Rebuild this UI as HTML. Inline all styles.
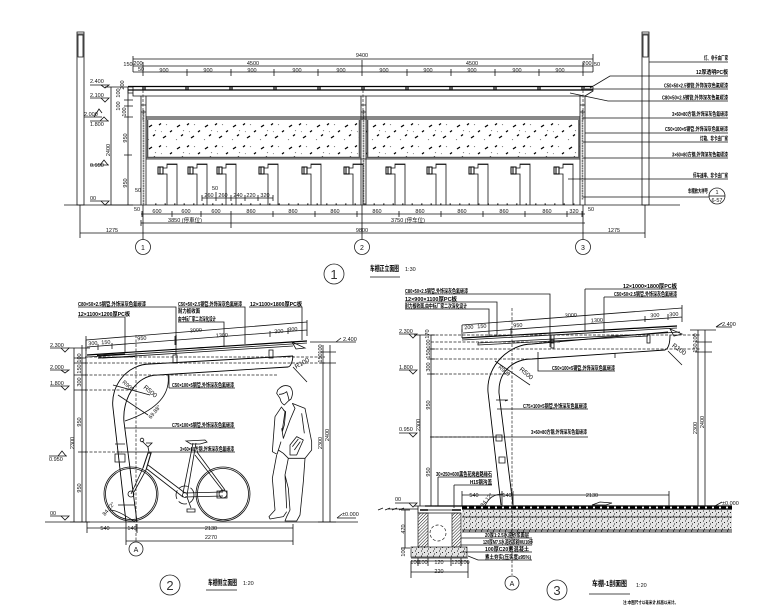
<!DOCTYPE html>
<html><head><meta charset="utf-8"><style>
html,body{margin:0;padding:0;background:#fff}
svg{display:block}
text{font-family:"Liberation Sans","Noto Sans CJK SC",sans-serif;font-size:5.5px;fill:#111}
.n{text-anchor:middle}
.l{fill:#000;font-size:5.5px;font-weight:bold}
.t{font-size:7.5px;font-weight:bold;fill:#000}
.c{text-anchor:middle;fill:#333;font-size:13px}
.g{font-size:7px;text-anchor:middle}
.a{fill:none;stroke:#111;stroke-width:.8}
.b{fill:none;stroke:#000;stroke-width:1.2}
.d{fill:none;stroke:#222;stroke-width:.7;stroke-dasharray:3 1.5}
.o{fill:#fff;stroke:#222;stroke-width:.8}
</style></head><body>
<svg width="780" height="611" viewBox="0 0 780 611" xmlns="http://www.w3.org/2000/svg">
<defs>
<pattern id="leaf" width="28" height="22" patternUnits="userSpaceOnUse" patternTransform="translate(146,120)">
<path d="M3,7l3,-2M17,18l3,-2M13,5l2,-1.5M24,12l2,-1.5M7,16l2,-1.5" stroke="#000" stroke-width="1.3" fill="none"/>
<path d="M20,5l1,-.7M9,11l1,-.7M2,20l1,-.7M15,12l.8,-.6" stroke="#555" stroke-width=".7" fill="none"/>
</pattern>
<pattern id="gr" width="6" height="5" patternUnits="userSpaceOnUse">
<rect width="6" height="5" fill="#e4e4e4"/>
<path d="M1,1h1M4,2.500h1M2,4h1" stroke="#222" stroke-width=".9"/>
</pattern>
<pattern id="ha" width="2.2" height="2.2" patternUnits="userSpaceOnUse" patternTransform="rotate(45)">
<rect width="2.2" height="2.2" fill="#fff"/><path d="M0,0V2.200" stroke="#111" stroke-width="1"/>
</pattern>
<g id="rk"><path class="a" d="M0,205V174H-4V168H0V164H10V205M0,164.500H10"/><rect x="-9" y="167" width="5" height="7" fill="#fff" stroke="#000" stroke-width="1"/><path d="M-7,167v7" stroke="#000"/></g>
</defs>
<rect width="780" height="611" fill="#fff"/>

<!-- ============ VIEW 1 ============ -->
<path class="a" d="M64,205H680"/>
<path class="a" d="M77,32H84V205H77ZM77,34H84M78,35H83V57H78Z"/>
<path class="a" d="M642,32H649V205H642ZM642,34H649M643,35H648V57H643Z"/>
<path class="a" d="M133,59H593M133,66H593M143,72H593M133,56V72M593,54V72M143,62V76M187,69V76M231,69V76M274,69V76M318,69V76M362,60V76M407,69V76M451,69V76M495,69V76M539,69V76M583,62V76M133,72H143"/>
<text x="362" y="57" class="n">9400</text><text x="253" y="65" class="n">4500</text><text x="472" y="65" class="n">4500</text>
<text x="138" y="65" class="n">200</text><text x="128" y="66" class="n">150</text><text x="141" y="71" class="n">50</text><text x="587" y="65" class="n">200</text><text x="597" y="66" class="n">50</text>
<text x="164" y="72" class="n">900</text><text x="208" y="72" class="n">900</text><text x="252" y="72" class="n">900</text><text x="297" y="72" class="n">900</text><text x="341" y="72" class="n">900</text><text x="384" y="72" class="n">900</text><text x="428" y="72" class="n">900</text><text x="472" y="72" class="n">900</text><text x="517" y="72" class="n">900</text><text x="560" y="72" class="n">900</text>
<path class="b" d="M128,86.500H593M128,90H593"/>
<path class="a" d="M128,87V93H133M133,87V96H585M593,87V91L585,96"/>
<path class="b" d="M143,87v3M145,87v3M186,87v3M188,87v3M230,87v3M232,87v3M274,87v3M276,87v3M318,87v3M320,87v3M362,87v3M364,87v3M406,87v3M408,87v3M450,87v3M452,87v3M494,87v3M496,87v3M538,87v3M540,87v3M582,87v3M584,87v3"/>
<path class="a" d="M141,96V205M146,96V205M361,96V205M366,96V205M580,96V205M585,96V205"/>
<path stroke="#777" stroke-width="1.6" fill="none" d="M143.500,110V205M363.500,110V205M582.500,110V200" stroke-dasharray="2 .5"/>
<path class="a" d="M141,105H146M141,112H146M361,105H366M361,112H366M580,105H585M580,112H585"/>
<path stroke="#111" stroke-width="1" fill="none" d="M146,117H580M146,119H580"/>
<rect x="146" y="120" width="213" height="37" fill="url(#leaf)"/><rect x="366" y="120" width="214" height="37" fill="url(#leaf)"/>
<path stroke="#555" stroke-width="1.6" fill="none" d="M146,157.500H361M366,157.500H580M147.500,120V157M359.500,120V157M367.500,120V157M579,120V157"/>
<path class="a" d="M146,159H580"/>
<use href="#rk" x="167"/><use href="#rk" x="197"/><use href="#rk" x="226"/><use href="#rk" x="268"/><use href="#rk" x="311"/><use href="#rk" x="353"/><use href="#rk" x="395"/><use href="#rk" x="436"/><use href="#rk" x="478"/><use href="#rk" x="520"/><use href="#rk" x="563"/>
<path stroke="#222" stroke-width="1" stroke-dasharray="1.500 8" fill="none" d="M155,204H580"/>
<path class="a" d="M202,198H273M202,195V201M216,195V201M231,195V201M245,195V201M258,195V201M273,195V201M216,192V198"/>
<text x="209" y="197" class="n">260</text><text x="223" y="197" class="n">260</text><text x="238" y="197" class="n">240</text><text x="251" y="197" class="n">220</text><text x="265" y="197" class="n">320</text><text x="215" y="190" class="n">50</text><text x="138" y="192" class="n">50</text>
<path class="a" d="M141,214H585M142,211V217M172,211V217M201,211V217M231,211V217M273,211V217M315,211V217M357,211V217M399,211V217M441,211V217M483,211V217M525,211V217M567,211V217M582,211V217M141,223H585M141,220V226M231,214V228M583,220V226M80,233H645M80,205V238M645,205V238M143,205V240M362,205V240M583,205V240"/>
<path class="d" d="M143,90V120M363,90V120M583,90V120"/>
<text x="157" y="213" class="n">600</text><text x="186" y="213" class="n">600</text><text x="216" y="213" class="n">600</text><text x="251" y="213" class="n">860</text><text x="293" y="213" class="n">860</text><text x="335" y="213" class="n">860</text><text x="377" y="213" class="n">860</text><text x="420" y="213" class="n">860</text><text x="462" y="213" class="n">860</text><text x="504" y="213" class="n">860</text><text x="547" y="213" class="n">860</text><text x="574" y="213" class="n">320</text><text x="588" y="211">50</text><text x="137" y="211" class="n">50</text>
<text x="185" y="222" class="n">3850 (停車位)</text><text x="408" y="222" class="n">3750 (停车位)</text>
<text x="112" y="232" class="n">1275</text><text x="362" y="232" class="n">9800</text><text x="614" y="232" class="n">1275</text>
<circle class="o" cx="143" cy="247" r="7.500"/><circle class="o" cx="362" cy="247" r="7.500"/><circle class="o" cx="583" cy="247" r="7.500"/>
<text x="143" y="250" class="g">1</text><text x="362" y="250" class="g">2</text><text x="583" y="250" class="g">3</text>
<circle class="o" cx="334" cy="274" r="10"/><text x="334" y="279" class="c">1</text>
<text x="370" y="271" class="t" textLength="29" lengthAdjust="spacingAndGlyphs">车棚正立面图</text><text x="405" y="271">1:30</text>
<path class="a" d="M370,277H400"/>
<path class="a" d="M111,87V205M128,87V205M105,87H133M124,100H133M124,106H133M124,117H133M124,155H132M105,205H133"/>
<text transform="translate(124,85) rotate(-90)" class="n">200</text><text transform="translate(120,93) rotate(-90)" class="n">100</text><text transform="translate(120,106) rotate(-90)" class="n">100</text><text transform="translate(126,112) rotate(-90)" class="n">100</text>
<text transform="translate(127,138) rotate(-90)" class="n">950</text><text transform="translate(127,183) rotate(-90)" class="n">950</text><text transform="translate(110,150) rotate(-90)" class="n">2400</text>
<text x="90" y="83">2.400</text><path class="a" d="M90,85H109L105,88L101,85"/>
<text x="90" y="97">2.100</text><path class="a" d="M90,98H109L105,102L101,98"/>
<text x="84" y="116">2.000</text><path class="a" d="M84,117H102M94,117L99,109L102,113"/>
<text x="90" y="126">1.800</text><path class="a" d="M90,121H109M100,121L104,117L108,121"/>
<text x="90" y="167">0.950</text><path class="a" d="M90,165H109M100,165L104,160L108,165"/>
<text x="90" y="200">00</text><path class="a" d="M90,201H109L105,205L101,201"/>
<!-- right leaders -->
<path class="a" d="M649,62H728M590,88L610,76H728M585,89H728M570,93L608,101H728M583,118H728M585,133H728M583,142H728M583,158H728M568,179H728M583,197H709"/>
<text x="728" y="60" text-anchor="end" class="l" textLength="24" lengthAdjust="spacingAndGlyphs">灯、非卡由厂家</text>
<text x="728" y="74" text-anchor="end" class="l" textLength="32" lengthAdjust="spacingAndGlyphs">12厚透明PC板</text>
<text x="728" y="87.500" text-anchor="end" class="l" textLength="64" lengthAdjust="spacingAndGlyphs">C50×50×2.5钢管,外饰深灰色氟碳漆</text>
<text x="728" y="99.500" text-anchor="end" class="l" textLength="66" lengthAdjust="spacingAndGlyphs">C80×50×2.5钢管,外饰深灰色氟碳漆</text>
<text x="728" y="116" text-anchor="end" class="l" textLength="56" lengthAdjust="spacingAndGlyphs">3×60×80方钢,外饰深灰色氟碳漆</text>
<text x="728" y="131" text-anchor="end" class="l" textLength="63" lengthAdjust="spacingAndGlyphs">C50×100×5钢管,外饰深灰色氟碳漆</text>
<text x="728" y="140.500" text-anchor="end" class="l" textLength="28" lengthAdjust="spacingAndGlyphs">灯箱、非卡由厂家</text>
<text x="728" y="156.500" text-anchor="end" class="l" textLength="56" lengthAdjust="spacingAndGlyphs">3×60×80方钢,外饰深灰色氟碳漆</text>
<text x="728" y="177.500" text-anchor="end" class="l" textLength="35" lengthAdjust="spacingAndGlyphs">停车速率、非卡由厂家</text>
<text x="708" y="193" text-anchor="end" class="l" textLength="20" lengthAdjust="spacingAndGlyphs">车棚放大样号</text>
<circle class="o" cx="717" cy="196" r="8"/><path class="a" d="M709,196H725"/><text x="717" y="194" class="n">1</text><text x="717" y="202" class="n">6-57</text>

<!-- ============ VIEW 2 ============ -->
<path class="a" d="M45,522H358"/>
<path class="b" d="M87,355L307,341"/><path class="a" d="M87,357L307,343M102,358L293,346M100,356V358"/>
<path class="a" d="M86,340L307,322M86,336V351M87,347L307,330M98,344V350M112,343V349M175,336V345M270,331V337M288,328V334M307,320V336"/>
<path stroke="#000" stroke-width="1.100" d="M176,335L176,345M97,355.500L125,354M98,358L135,356.500M196,348L205,347.500" fill="none"/>
<rect x="173" y="355" width="4" height="8" class="a"/><rect x="269" y="350" width="4" height="8" class="a"/>
<path class="a" d="M292,342L305,348L296,349Z"/>
<text transform="translate(93,345) rotate(-3.500)" class="n">300</text><text transform="translate(106,344) rotate(-3.500)" class="n">150</text><text transform="translate(142,340) rotate(-3.500)" class="n">950</text><text transform="translate(196,332) rotate(-3.500)" class="n">3000</text><text transform="translate(222,337) rotate(-3.500)" class="n">1300</text><text transform="translate(279,333) rotate(-3.500)" class="n">300</text><text transform="translate(293,331) rotate(-3.500)" class="n">300</text>
<path style="fill:none;stroke:#000;stroke-width:.9" d="M126,522L113,408C110,385 128,364 150,364L293,356M137,522L124,422C122,400 135,375 158,375L288,367Q292,366 293,356"/>
<path class="a" d="M168,375Q172,405 125,421M293,367L307,382M113,385L150,395M118,395L148,415M110,510Q118,510 135,522"/>
<text transform="translate(149,393) rotate(40)" class="n" style="font-size:6.5px">R500</text>
<text transform="translate(127,387) rotate(40)" class="n">R900</text>
<text transform="translate(303,365) rotate(-30)" class="n" style="font-size:6.5px">R100</text>
<text transform="translate(156,413) rotate(-50)" class="n">69.88°</text>
<text transform="translate(110,510) rotate(-50)" class="n">84.12°</text>
<path class="d" d="M136,335V542M85,357H325M85,363H325M85,375H278M85,390H135M85,452H122"/>
<path class="a" d="M115,444H125M115,454H125V462H115ZM118,505H135"/>
<!-- bike -->
<g fill="none" stroke="#111" stroke-width=".8">
<circle cx="131" cy="494" r="27"/><circle cx="131" cy="494" r="25.500"/><circle cx="131" cy="494" r="3"/>
<circle cx="223" cy="494" r="27"/><circle cx="223" cy="494" r="25.500"/><circle cx="223" cy="494" r="4"/>
<circle cx="185" cy="495" r="9" stroke-dasharray="9 3"/><circle cx="185" cy="495" r="2.500"/>
<path d="M131,494L143,468M134,492L146,470" />
<path d="M143,468L148,453L151,453L146,470" stroke-width="1.100"/>
<path d="M149,452L148,447L142,441M148,447L152,443H146"/><circle cx="142" cy="440" r="1.800"/>
<path d="M148,465L185,493M147,469L183,497"/>
<path d="M196,443L187,495M193,443L183,493"/>
<path d="M195,455L223,491M197,452L225,490"/>
<path d="M185,493L223,492M185,497L223,496"/>
<path d="M186,441L205,440L207,442L200,444H191Z"/>
<path d="M187,497L191,508M187,509H195V512H187Z"/>
<path d="M217,491H227V498H217Z"/>
</g>
<!-- person -->
<g transform="translate(255,375) scale(.33333)" fill="none" stroke="#111" stroke-width="2.400" stroke-linejoin="round">
<path d="M68,45Q85,25 105,35Q118,50 108,72L100,78L88,90Q78,85 75,70L65,55Z"/>
<path d="M72,58Q85,58 95,50Q100,65 102,75"/>
<path d="M80,95L60,125L52,230L66,238L78,200"/>
<path d="M112,85L150,100L170,200L170,225L150,250H100L85,235L70,225"/>
<path d="M112,85L120,100L105,135L85,190L80,160M80,97L90,110L82,165M85,105L92,110L88,150L82,170M140,115L148,175"/>
<path d="M105,210L125,185L145,195L125,240L105,240ZM112,215L130,192M118,225L136,200"/>
<path d="M65,240L52,310L60,405L42,425L45,432L85,425L95,410"/>
<path d="M100,250L90,300L95,400M150,250L145,320L135,420L125,438H90L95,425L105,405L100,340L90,300"/>
</g>
<path class="a" d="M74,348V522M82,345V522M86,340V522M68,348H90M70,522H90M323,345V522M330,345V522M310,342H336M318,522H336M74,358H86M74,363H86M74,375H86M74,390H86M78,452H86M320,352H336M320,363H336"/>
<path class="a" d="M87,528H293M87,524V533M126,522V545M137,524V533M293,524V545M126,541H293M87,522V528"/>
<text x="105" y="530" class="n">540</text><text x="132" y="530" class="n">140</text><text x="211" y="530" class="n">2130</text><text x="211" y="539" class="n">2270</text>
<text transform="translate(74,443) rotate(-90)" class="n">2300</text><text transform="translate(81,422) rotate(-90)" class="n">950</text><text transform="translate(81,488) rotate(-90)" class="n">950</text><text transform="translate(81,382) rotate(-90)" class="n">300</text><text transform="translate(81,369) rotate(-90)" class="n">150</text><text transform="translate(81,358) rotate(-90)" class="n">100</text>
<text transform="translate(322,443) rotate(-90)" class="n">2300</text><text transform="translate(329,435) rotate(-90)" class="n">2400</text><text transform="translate(322,358) rotate(-90)" class="n">150</text><text transform="translate(322,349) rotate(-90)" class="n">100</text>
<text x="50" y="347">2.300</text><path class="a" d="M50,348H69L65,352L61,348"/>
<text x="50" y="369">2.000</text><path class="a" d="M50,370H69L65,373L61,370"/>
<text x="50" y="385">1.800</text><path class="a" d="M50,386H69L65,390L61,386"/>
<text x="49" y="461">0.950</text><path class="a" d="M49,456H67M58,456L62,451L66,456"/>
<text x="50" y="515">00</text><path class="a" d="M50,516H69L65,520L61,516"/>
<text x="343" y="341">2.400</text><path class="a" d="M336,342H356M336,342L341,338"/>
<text x="342" y="516">±0.000</text><path class="a" d="M337,518H356M337,518L342,514"/>
<path class="a" d="M78,307H176V355M78,317H125V353M178,307H245V344M178,322H224V347M249,307H302V340M169,388H235M169,375V388M125,428H235M117,452H235"/>
<text x="78" y="306" class="l" textLength="68" lengthAdjust="spacingAndGlyphs">C80×50×2.5钢管,外饰深灰色氟碳漆</text>
<text x="78" y="316" class="l" textLength="52" lengthAdjust="spacingAndGlyphs">12×1100×1200厚PC板</text>
<text x="178" y="306" class="l" textLength="64" lengthAdjust="spacingAndGlyphs">C50×50×2.5钢管,外饰深灰色氟碳漆</text>
<text x="178" y="313" class="l" textLength="22" lengthAdjust="spacingAndGlyphs">耐力板收面</text>
<text x="178" y="321" class="l" textLength="38" lengthAdjust="spacingAndGlyphs">由中标厂家二次深化设计</text>
<text x="250" y="306" class="l" textLength="52" lengthAdjust="spacingAndGlyphs">12×1100×1800厚PC板</text>
<text x="172" y="387" class="l" textLength="62" lengthAdjust="spacingAndGlyphs">C50×100×5钢管,外饰深灰色氟碳漆</text>
<text x="172" y="427" class="l" textLength="62" lengthAdjust="spacingAndGlyphs">C75×100×5钢管,外饰深灰色氟碳漆</text>
<text x="180" y="451" class="l" textLength="54" lengthAdjust="spacingAndGlyphs">3×60×80方钢,外饰深灰色氟碳漆</text>
<circle cx="136" cy="549" r="7" class="o"/><text x="136" y="552" class="g">A</text>
<circle cx="170" cy="585" r="10" class="o"/><text x="170" y="590" class="c">2</text>
<text x="208" y="585" class="t" textLength="29" lengthAdjust="spacingAndGlyphs">车棚侧立面图</text><text x="243" y="585">1:20</text>
<path class="a" d="M206,590H237"/>

<!-- ============ VIEW 3 ============ -->
<rect x="462" y="509" width="270" height="23" fill="url(#gr)"/>
<path stroke="#000" stroke-width="1.200" fill="none" d="M425,506H732M462,509H732"/>
<path stroke="#000" stroke-width="2" stroke-dasharray="5 2" fill="none" d="M462,507.500H732"/>
<path class="a" d="M462,517H732M462,530H732M462,532H732M388,509H418"/>
<rect x="418" y="513" width="10" height="34" fill="url(#ha)" stroke="#222" stroke-width=".7"/>
<rect x="452" y="513" width="9" height="34" fill="url(#ha)" stroke="#222" stroke-width=".7"/>
<rect x="411" y="547" width="56" height="10" fill="url(#gr)" stroke="#222" stroke-width=".7"/>
<path class="a" d="M418,506V513H461M428,510H452M411,558H468"/>
<path stroke="#000" stroke-width="1.500" d="M420,510H428M452,510H461" fill="none"/>
<circle cx="438" cy="533" r="8" fill="none" stroke="#222" stroke-width=".7" stroke-dasharray="3 2"/>
<path class="a" d="M383,508L378,510M390,508L385,510M397,508L392,510M404,508L399,510"/>
<path class="b" d="M462,338L677,326"/>
<path class="a" d="M462,340L677,328M478,343L648,334L680,332M478,343V345L648,336M462,325V338"/>
<path class="a" d="M462,325L682,308M462,329V332M463,333L682,317M511,328V336M645,316V322M668,314V320M682,305V322"/>
<rect x="551" y="335" width="3" height="8" class="a"/><rect x="647" y="335" width="3" height="8" class="a"/>
<rect x="551" y="340" width="3" height="8" class="a"/>
<path class="a" d="M670,329L682,334L674,336Z"/>
<text transform="translate(469,329) rotate(-3.500)" class="n">200</text><text transform="translate(482,328) rotate(-3.500)" class="n">150</text><text transform="translate(518,327) rotate(-3.500)" class="n">950</text><text transform="translate(571,317) rotate(-3.500)" class="n">3000</text><text transform="translate(597,322) rotate(-3.500)" class="n">1300</text><text transform="translate(655,317) rotate(-3.500)" class="n">300</text><text transform="translate(674,316) rotate(-3.500)" class="n">300</text>
<path style="fill:none;stroke:#000;stroke-width:.9" d="M501,505L488,392C486,365 510,344 532,344L668,332M513,505L499,393C498,370 515,359 532,359L665,350Q670,348 670,335"/>
<path class="a" d="M668,351L682,365M495,361L530,385M496,400H508L505,401"/>
<text transform="translate(525,375) rotate(40)" class="n" style="font-size:6.5px">R500</text>
<text transform="translate(503,372) rotate(40)" class="n">R900</text>
<text transform="translate(678,351) rotate(35)" class="n" style="font-size:6.5px">R100</text>
<text transform="translate(488,501) rotate(-50)" class="n">84.12°</text>
<path class="a" d="M485,506Q490,494 503,494"/>
<path class="d" d="M512,308V575M431,335H700M431,342H560M431,349H700M431,359H530M431,374H510M431,437H500"/>
<path class="a" d="M496,435h6v6h-6ZM499,457h6v6h-6ZM615,353V358"/>
<path class="a" d="M698,330V506M705,330V506M690,330H716M695,506H712M695,342H712M695,352H712"/>
<text transform="translate(697,428) rotate(-90)" class="n">2300</text><text transform="translate(704,422) rotate(-90)" class="n">2400</text><text transform="translate(697,348) rotate(-90)" class="n">150</text><text transform="translate(697,338) rotate(-90)" class="n">100</text>
<text x="722" y="326">2.400</text><path class="a" d="M716,327H732M716,327L722,323"/>
<text x="722" y="505">±0.000</text><path class="a" d="M715,506H732M715,506L722,502"/>
<path class="a" d="M420,335V506M431,335V506M414,335H435M414,506H435M427,349H435M427,359H435M427,374H435"/>
<text transform="translate(420,425) rotate(-90)" class="n">2300</text><text transform="translate(430,405) rotate(-90)" class="n">950</text><text transform="translate(430,472) rotate(-90)" class="n">950</text><text transform="translate(430,367) rotate(-90)" class="n">300</text><text transform="translate(430,354) rotate(-90)" class="n">150</text><text transform="translate(430,344) rotate(-90)" class="n">100</text><text transform="translate(429,334) rotate(-90)" class="n">170</text>
<text x="399" y="333">2.300</text><path class="a" d="M399,334H417L413,338L409,334"/>
<text x="399" y="369">1.800</text><path class="a" d="M399,370H417L413,374L409,370"/>
<text x="399" y="431">0.950</text><path class="a" d="M399,433H417L413,437L409,433"/>
<text x="395" y="501">00</text><path class="a" d="M395,503H417L413,507L409,503"/>
<path class="a" d="M462,495H669M462,491V506M502,491V506M513,491V506M669,491V506"/>
<text x="474" y="497" class="n">540</text><text x="507" y="497" class="n">140</text><text x="592" y="497" class="n">2130</text>
<path class="a" d="M592,505L600,502L612,503L606,505Z"/>
<path class="a" d="M405,510V548M401,510H410M401,548H410"/><text transform="translate(405,529) rotate(-90)" class="n">470</text>
<text transform="translate(405,552) rotate(-90)" class="n">100</text>
<path class="a" d="M411,561H468M411,561V578M468,561V578M418,558V566M428,558V566M451,558V566M461,558V566M411,572H468"/>
<text x="415" y="564" class="n">100</text><text x="423" y="564" class="n">100</text><text x="439" y="564" class="n">120</text><text x="456" y="564" class="n">120</text><text x="465" y="564" class="n">100</text><text x="439" y="573" class="n">220</text>
<path class="a" d="M405,294H550V347M405,302H497V335M405,309H489V337M585,289H677M585,289V331M604,297H677M604,297V333M538,352V371H615M497,409H588M430,437H588M438,477H492M438,477V506M454,485H492M454,485V508M461,538H532M461,545H532M461,552H532M468,556L478,560H532"/>
<text x="405" y="293" class="l" textLength="63" lengthAdjust="spacingAndGlyphs">C80×50×2.5钢管,外饰深灰色氟碳漆</text>
<text x="405" y="301" class="l" textLength="52" lengthAdjust="spacingAndGlyphs">12×900×1100厚PC板</text>
<text x="405" y="308" class="l" textLength="62" lengthAdjust="spacingAndGlyphs">耐力板收面,由中标厂家二次深化设计</text>
<text x="677" y="288" class="l" text-anchor="end" textLength="54" lengthAdjust="spacingAndGlyphs">12×1000×1800厚PC板</text>
<text x="677" y="296" class="l" text-anchor="end" textLength="63" lengthAdjust="spacingAndGlyphs">C50×50×2.5钢管,外饰深灰色氟碳漆</text>
<text x="552" y="370" class="l" textLength="63" lengthAdjust="spacingAndGlyphs">C50×100×5钢管,外饰深灰色氟碳漆</text>
<text x="523" y="408" class="l" textLength="64" lengthAdjust="spacingAndGlyphs">C75×100×5钢管,外饰深灰色氟碳漆</text>
<text x="531" y="434" class="l" textLength="56" lengthAdjust="spacingAndGlyphs">3×60×80方钢,外饰深灰色氟碳漆</text>
<text x="436" y="476" class="l" textLength="56" lengthAdjust="spacingAndGlyphs">30×250×600黑色花岗岩路缘石</text>
<text x="470" y="484" class="l" textLength="22" lengthAdjust="spacingAndGlyphs">H15钢沟盖</text>
<text x="485" y="537" class="l" textLength="44" lengthAdjust="spacingAndGlyphs">20厚1:2.5水泥砂浆面层</text>
<text x="483" y="544" class="l" textLength="50" lengthAdjust="spacingAndGlyphs">120厚M7.5水泥砂浆砌MU10砖</text>
<text x="485" y="551" class="l" textLength="44" lengthAdjust="spacingAndGlyphs">100厚C20素混凝土</text>
<text x="485" y="559" class="l" textLength="46" lengthAdjust="spacingAndGlyphs">素土夯实(压实度≥95%)</text>
<circle cx="512" cy="583" r="7" class="o"/><text x="512" y="586" class="g">A</text>
<circle cx="557" cy="590" r="10" class="o"/><text x="557" y="595" class="c">3</text>
<text x="592" y="586" class="t" textLength="35" lengthAdjust="spacingAndGlyphs">车棚-1剖面图</text><text x="636" y="587">1:20</text>
<path class="a" d="M589,594H630"/>
<text x="623" y="604" style="font-size:4.5px;font-weight:bold;fill:#000" textLength="55" lengthAdjust="spacingAndGlyphs">注:本图尺寸以毫米计,标高以米计。</text>
</svg>
</body></html>
